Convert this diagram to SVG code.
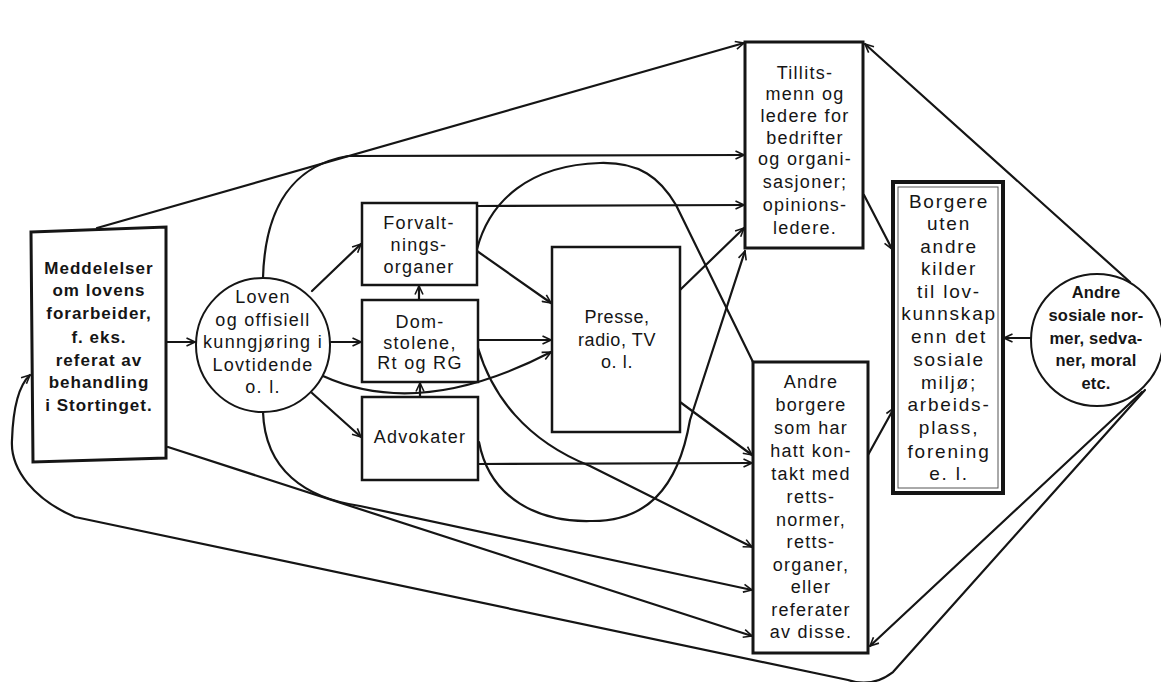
<svg xmlns="http://www.w3.org/2000/svg" width="1161" height="682" viewBox="0 0 1161 682">
<style>
.bg{fill:#ffffff}
.box{fill:#ffffff;stroke:#151515;stroke-width:3}
.thin{fill:#ffffff;stroke:#151515;stroke-width:2.5}
.circ{fill:#ffffff;stroke:#151515;stroke-width:2}
.ln{fill:none;stroke:#151515;stroke-width:2.2;stroke-linecap:round;stroke-linejoin:round}
.arr{marker-end:url(#ah)}
text{font-family:"Liberation Sans",Arial,Helvetica,sans-serif;fill:#151515;text-anchor:middle}
.t{font-size:18px;letter-spacing:1.3px}
.tb{font-size:17px;font-weight:bold;letter-spacing:1px}
.ts{font-size:16.5px;font-weight:bold;letter-spacing:0.2px}
.tw{font-size:19px;letter-spacing:1.8px}
.tp{font-size:18px;letter-spacing:0.6px}
</style>
<defs>
<marker id="ah" viewBox="0 0 10 10" refX="9.5" refY="5" markerWidth="10" markerHeight="10" orient="auto" markerUnits="userSpaceOnUse">
<path d="M1,1 L9.5,5 L1,9" fill="none" stroke="#151515" stroke-width="1.6"/>
</marker>
</defs>
<rect class="bg" x="0" y="0" width="1161" height="682"/>

<g id="connectors">
<path class="ln arr" d="M166,342 L195,342"/>
<path class="ln arr" d="M312,291 L361,244"/>
<path class="ln arr" d="M331,342 L361,342"/>
<path class="ln arr" d="M312,393 L361,437"/>
<path class="ln arr" d="M263,278 C265,205 295,165 348,156 L744,155"/>
<path class="ln arr" d="M97,228 L744,43"/>
<path class="ln arr" d="M168,447 L752,636"/>
<path class="ln arr" d="M263,412 C265,470 305,498 360,506 L752,590"/>
<path class="ln arr" d="M419,300 L419,286"/>
<path class="ln arr" d="M420,397 L420,383"/>
<path class="ln arr" d="M477,206 L744,205"/>
<path class="ln arr" d="M477,251 L551,303"/>
<path class="ln" d="M477,249 C490,200 530,165 600,163 C640,162 660,178 676,205 L753,362"/>
<path class="ln arr" d="M478,340 L551,340"/>
<path class="ln arr" d="M323,376 Q420,420 551,352"/>
<path class="ln arr" d="M478,348 C492,395 525,440 590,466 L752,547"/>
<path class="ln arr" d="M479,442 C490,500 540,522 590,521 C645,522 678,490 690,420 L745,251"/>
<path class="ln arr" d="M680,290 L744,228"/>
<path class="ln arr" d="M680,402 L752,455"/>
<path class="ln arr" d="M478,464 L752,463"/>
<path class="ln arr" d="M864,195 L892,249"/>
<path class="ln arr" d="M868,455 L894,408"/>
<path class="ln arr" d="M1031,338 L1004,338"/>
<path class="ln arr" d="M1130,282 L865,44"/>
<path class="ln arr" d="M1142,392 L870,646"/>
<path class="ln arr" d="M1145,390 L893,672 Q872,688 848,680 L75,517 C35,500 10,470 12,440 C13,410 18,386 30,375"/>
</g>

<g id="meddelelser">
<path class="box" d="M31,232 L166,227 L166,458 L33,462 Z"/>
<text class="tb" x="99" y="274">Meddelelser</text>
<text class="tb" x="99" y="296">om lovens</text>
<text class="tb" x="99" y="319">forarbeider,</text>
<text class="tb" x="99" y="343">f. eks.</text>
<text class="tb" x="99" y="366">referat av</text>
<text class="tb" x="99" y="388">behandling</text>
<text class="tb" x="99" y="411">i Stortinget.</text>
</g>

<g id="loven">
<circle class="circ" cx="263" cy="345" r="67"/>
<text class="t" x="263" y="303">Loven</text>
<text class="t" x="263" y="326">og offisiell</text>
<text class="t" x="263" y="348">kunngjøring i</text>
<text class="t" x="263" y="371">Lovtidende</text>
<text class="t" x="263" y="393">o. l.</text>
</g>

<g id="forvaltning">
<rect class="thin" x="362" y="203" width="115" height="82"/>
<text class="t" x="419" y="229">Forvalt-</text>
<text class="t" x="419" y="251">nings-</text>
<text class="t" x="419" y="273">organer</text>
</g>

<g id="domstolene">
<rect class="thin" x="362" y="300" width="116" height="82"/>
<text class="t" x="420" y="328">Dom-</text>
<text class="t" x="420" y="349">stolene,</text>
<text class="t" x="420" y="369">Rt og RG</text>
</g>

<g id="advokater">
<rect class="thin" x="362" y="397" width="116" height="83"/>
<text class="t" x="420" y="443">Advokater</text>
</g>

<g id="presse">
<rect class="thin" x="552" y="247" width="128" height="185"/>
<text class="tp" x="617" y="323">Presse,</text>
<text class="tp" x="617" y="346">radio, TV</text>
<text class="tp" x="617" y="368">o. l.</text>
</g>

<g id="tillitsmenn">
<rect class="box" x="745" y="42" width="118" height="206"/>
<text class="t" x="805" y="79">Tillits-</text>
<text class="t" x="805" y="100">menn og</text>
<text class="t" x="805" y="122">ledere for</text>
<text class="t" x="805" y="144">bedrifter</text>
<text class="t" x="805" y="165">og organi-</text>
<text class="t" x="805" y="188">sasjoner;</text>
<text class="t" x="805" y="211">opinions-</text>
<text class="t" x="805" y="234">ledere.</text>
</g>

<g id="andre-borgere">
<rect class="box" x="753" y="362" width="115" height="291"/>
<text class="t" x="811" y="388">Andre</text>
<text class="t" x="811" y="411">borgere</text>
<text class="t" x="811" y="434">som har</text>
<text class="t" x="811" y="457">hatt kon-</text>
<text class="t" x="811" y="480">takt med</text>
<text class="t" x="811" y="503">retts-</text>
<text class="t" x="811" y="526">normer,</text>
<text class="t" x="811" y="548">retts-</text>
<text class="t" x="811" y="571">organer,</text>
<text class="t" x="811" y="593">eller</text>
<text class="t" x="811" y="616">referater</text>
<text class="t" x="811" y="638">av disse.</text>
</g>

<g id="borgere-uten">
<rect x="893" y="182" width="110" height="311" fill="#ffffff" stroke="#151515" stroke-width="4"/>
<rect x="898" y="187" width="100" height="301" fill="none" stroke="#555555" stroke-width="1"/>
<text class="tw" x="949" y="208">Borgere</text>
<text class="tw" x="949" y="230">uten</text>
<text class="tw" x="949" y="253">andre</text>
<text class="tw" x="949" y="275">kilder</text>
<text class="tw" x="949" y="298">til lov-</text>
<text class="tw" x="949" y="320">kunnskap</text>
<text class="tw" x="949" y="343">enn det</text>
<text class="tw" x="949" y="366">sosiale</text>
<text class="tw" x="949" y="389">miljø;</text>
<text class="tw" x="949" y="411">arbeids-</text>
<text class="tw" x="949" y="434">plass,</text>
<text class="tw" x="949" y="458">forening</text>
<text class="tw" x="949" y="480">e. l.</text>
</g>

<g id="andre-sosiale">
<circle class="circ" cx="1097" cy="340" r="66"/>
<text class="ts" x="1096" y="298">Andre</text>
<text class="ts" x="1096" y="321">sosiale nor-</text>
<text class="ts" x="1096" y="344">mer, sedva-</text>
<text class="ts" x="1096" y="366">ner, moral</text>
<text class="ts" x="1096" y="389">etc.</text>
</g>
</svg>
